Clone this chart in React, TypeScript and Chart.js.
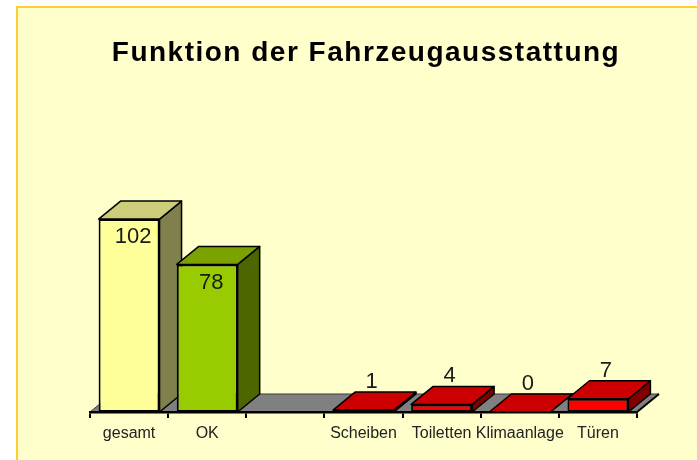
import { useEffect, useRef } from "react";
import { Chart, registerables } from "chart.js";

Chart.register(...registerables);

const titleText = "Funktion der Fahrzeugausstattung";
const categories = ["gesamt", "OK", "", "Scheiben", "Toiletten", "Klimaanlage", "Türen"];
const values: (number | null)[] = [102, 78, null, 1, 4, 0, 7];
const barColors = ["#FFFF99", "#99CC00", "#FF0000", "#FF0000", "#FF0000", "#FF0000", "#FF0000"];
const yMax = 120;

const DX = 22;
const DY = -18;
const FONT = "'Liberation Sans', Arial, Helvetica, sans-serif";

function shade(hex: string, f: number) {
  const n = parseInt(hex.slice(1), 16);
  const r = Math.round(((n >> 16) & 255) * f);
  const g = Math.round(((n >> 8) & 255) * f);
  const b = Math.round((n & 255) * f);
  return `rgb(${r},${g},${b})`;
}

function poly(ctx: CanvasRenderingContext2D, pts: number[][], fill: string, stroke = "#000", lw = 1.5) {
  ctx.beginPath();
  ctx.moveTo(pts[0][0], pts[0][1]);
  for (let i = 1; i < pts.length; i++) ctx.lineTo(pts[i][0], pts[i][1]);
  ctx.closePath();
  ctx.fillStyle = fill;
  ctx.fill();
  ctx.strokeStyle = stroke;
  ctx.lineWidth = lw;
  ctx.lineJoin = "round";
  ctx.stroke();
}

const threeD = {
  id: "threeD",
  beforeDraw(chart: any) {
    const { ctx } = chart;
    const xs = chart.scales.x;
    const ys = chart.scales.y;
    const l = xs.left;
    const r = xs.right;
    const b = ys.getPixelForValue(0);
    ctx.save();
    // title
    ctx.fillStyle = "#000";
    ctx.font = `bold 28px ${FONT}`;
    ctx.textAlign = "center";
    ctx.textBaseline = "alphabetic";
    (ctx as any).letterSpacing = "1.5px";
    ctx.fillText(titleText, 366, 61);
    (ctx as any).letterSpacing = "0px";
    // floor
    poly(ctx, [[l, b], [r, b], [r + DX, b + DY], [l + DX, b + DY]], "#808080", "#3a3a3a", 1);
    ctx.beginPath();
    ctx.moveTo(r, b);
    ctx.lineTo(r + DX, b + DY);
    ctx.strokeStyle = "#000";
    ctx.lineWidth = 2;
    ctx.stroke();
    ctx.restore();
  },
  beforeDatasetsDraw(chart: any) {
    const { ctx } = chart;
    const meta = chart.getDatasetMeta(0);
    ctx.save();
    meta.data.forEach((el: any, i: number) => {
      if (values[i] == null) return;
      const { x, y, base, width } = el.getProps(["x", "y", "base", "width"], true);
      const L = x - width / 2;
      const R = x + width / 2;
      const c = barColors[i];
      // side
      poly(ctx, [[R, y], [R + DX, y + DY], [R + DX, base + DY], [R, base]], shade(c, 0.5));
      // top
      poly(ctx, [[L, y], [R, y], [R + DX, y + DY], [L + DX, y + DY]], shade(c, 0.8));
    });
    ctx.restore();
  },
  afterDatasetsDraw(chart: any) {
    const { ctx } = chart;
    const meta = chart.getDatasetMeta(0);
    ctx.save();
    ctx.font = `22px ${FONT}`;
    ctx.fillStyle = "#1a1a1a";
    ctx.textAlign = "center";
    ctx.textBaseline = "middle";
    meta.data.forEach((el: any, i: number) => {
      const v = values[i];
      if (v == null) return;
      const { x, y, base } = el.getProps(["x", "y", "base"], true);
      if (base - y > 40) {
        ctx.fillText(String(v), x + 4, y + 18);
      } else {
        ctx.fillText(String(v), x + 8, y + DY - 10);
      }
    });
    ctx.restore();
  },
};

export default function App() {
  const ref = useRef<HTMLCanvasElement | null>(null);
  useEffect(() => {
    if (!ref.current) return;
    const chart = new Chart(ref.current, {
      type: "bar",
      data: {
        labels: categories,
        datasets: [
          {
            data: values,
            backgroundColor: barColors,
            borderColor: "#000",
            borderWidth: 2,
            borderSkipped: false,
            barPercentage: 0.78,
            categoryPercentage: 1,
          },
        ],
      },
      options: {
        responsive: false,
        animation: false,
        devicePixelRatio: 1,
        layout: { padding: { top: 185, left: 90, right: 60, bottom: 0 } },
        plugins: { legend: { display: false }, title: { display: false }, tooltip: { enabled: false } },
        scales: {
          x: {
            afterFit: (s: any) => {
              s.height = 48;
            },
            border: { display: true, color: "#000", width: 2.5 },
            grid: { display: true, drawOnChartArea: false, drawTicks: true, tickLength: 6, color: "#000", lineWidth: 2, offset: true },
            ticks: { color: "#222", font: { family: FONT, size: 16 }, padding: 6, maxRotation: 0, autoSkip: false },
          },
          y: { display: false, min: 0, max: yMax },
        },
      },
      plugins: [threeD],
    });
    return () => chart.destroy();
  }, []);
  return (
    <div style={{ position: "fixed", left: 0, top: 0, width: 697, height: 460, background: "#fff", overflow: "hidden" }}>
      <div
        style={{
          position: "absolute",
          left: 16,
          top: 6,
          right: 0,
          bottom: 0,
          background: "#FFFFCC",
          borderLeft: "2px solid #FFCC33",
          borderTop: "2px solid #FFCC33",
        }}
      />
      <canvas ref={ref} width={697} height={460} style={{ position: "absolute", left: 0, top: 0 }} />
    </div>
  );
}
